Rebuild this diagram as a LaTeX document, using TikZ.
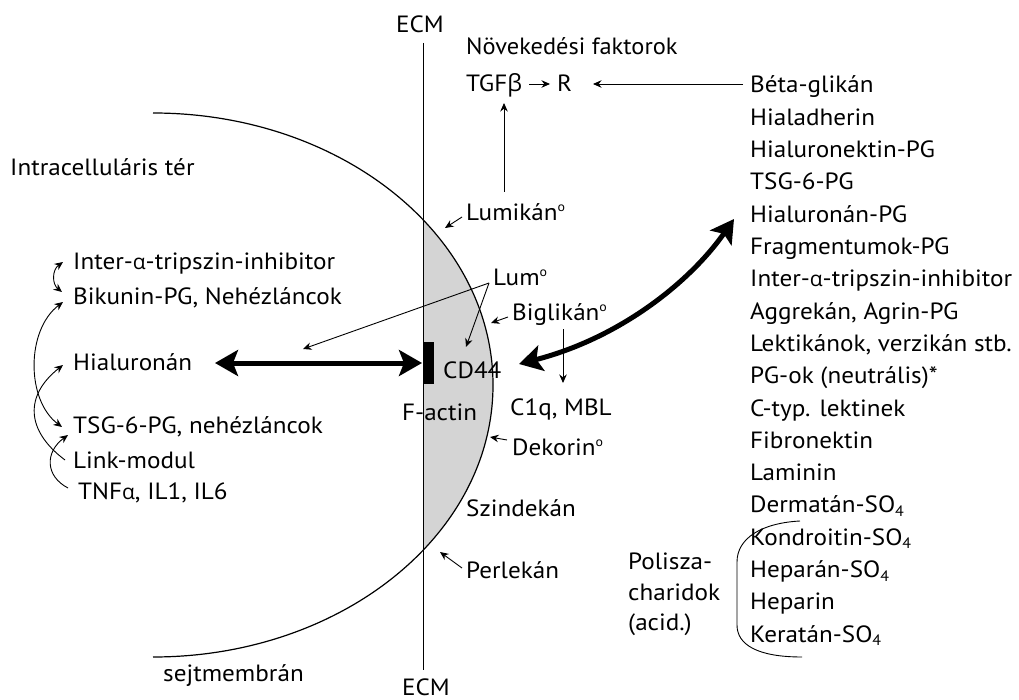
\documentclass[tikz,border=0pt]{standalone}
\usepackage{fontspec}
\setmainfont{PT Sans}[FakeStretch=1.07]
\newfontfamily\grfont{Open Sans}
\usetikzlibrary{arrows.meta}
\definecolor{cellgray}{RGB}{212,212,212}
\newcommand{\ga}{{\grfont\fontsize{21}{24}\selectfont α}}
\newcommand{\gb}{{\grfont β}}
\newcommand{\mysub}[1]{\raisebox{-0.3ex}{\fontsize{15}{15}\selectfont #1}}
\newcommand{\mydeg}{\raisebox{9pt}{\fontsize{13}{13}\selectfont o}}
\tikzset{
  lbl/.style={anchor=base west, inner sep=0pt, font=\fontsize{23.5}{27}\selectfont},
  thinarr/.style={line width=0.9pt, -{Stealth[length=8.5pt,width=7.5pt]}},
  thinboth/.style={line width=0.9pt, {Stealth[length=8.5pt,width=7.5pt]}-{Stealth[length=8.5pt,width=7.5pt]}},
  thickboth/.style={line width=5pt, {Stealth[length=23pt,width=26pt,inset=5pt]}-{Stealth[length=23pt,width=26pt,inset=5pt]}},
}
\begin{document}
\begin{tikzpicture}[x=1pt,y=-1pt]
\useasboundingbox (0,0) rectangle (1019,700);
% shaded region
\begin{scope}
  \clip (423,0) rectangle (1019,700);
  \fill[cellgray] (153,385) ellipse [x radius=340pt, y radius=272pt];
\end{scope}
% cell membrane
\draw[line width=1.2pt] (153,113) arc [start angle=90, end angle=-90, x radius=340pt, y radius=272pt];
% ECM line
\node[lbl, anchor=base] (ecmt) at (420,33) {ECM};
\node[lbl, anchor=base] (ecmb) at (426,695) {ECM};
\coordinate (ecm1) at (423,43);
\coordinate (ecm2) at (423,670);
\draw[line width=1pt] (ecm1) -- (ecm2);
% CD44 bar
\fill (423,342) rectangle (434,384);

% top texts
\node[lbl] (nov) at (466,55) {\scalebox{0.97}[1]{Növekedési faktorok}};
\node[lbl] (tgf) at (466,92) {TGF\gb};
\node[lbl] (rr) at (557,92) {R};
\coordinate (t1) at (529,84);
\coordinate (t2) at (550,84);
\draw[thinarr] (t1) -- (t2);

% right column
\foreach \t [count=\i from 0] in {Béta-glikán, Hialadherin, Hialuronektin-PG, TSG-6-PG, Hialuronán-PG, Fragmentumok-PG, Inter-\ga-tripszin-inhibitor, {Aggrekán, Agrin-PG}, {Lektikánok, verzikán stb.}, PG-ok (neutrális)*, C-typ. lektinek, Fibronektin, Laminin, Dermatán-SO\mysub{4}, Kondroitin-SO\mysub{4}, Heparán-SO\mysub{4}, Heparin, Keratán-SO\mysub{4}}
  \node[lbl] (r\i) at (750,{93+32.3*\i}) {\t};

\coordinate (b1) at (743,84);
\coordinate (b2) at (593,84);
\draw[thinarr] (b1) -- (b2);

% bracket
\coordinate (k1) at (800,521);
\coordinate (k2) at (802,657);
\draw[line width=0.9pt] (k1) .. controls (762,523) and (737,538) .. (737,562) -- (737,625) .. controls (737,645) and (758,657) .. (k2);
\node[lbl] (pol1) at (628,569) {Polisza-};
\node[lbl] (pol2) at (628,600) {charidok};
\node[lbl] (pol3) at (628,630) {(acid.)};

% left texts
\node[lbl] (intra) at (10,176) {Intracelluláris tér};
\node[lbl] (iti) at (73,270) {Inter-\ga-tripszin-inhibitor};
\node[lbl] (bik) at (73,305) {Bikunin-PG, Nehézláncok};
\node[lbl] (hia) at (73,370) {Hialuronán};
\node[lbl] (tsg) at (73,433) {TSG-6-PG, nehézláncok};
\node[lbl] (link) at (73,468) {Link-modul};
\node[lbl] (tnf) at (78,499) {TNF\ga, IL1, IL6};
\node[lbl] (sejt) at (163,681) {sejtmembrán};

% middle texts
\node[lbl] (lumikan) at (466,221) {Lumikán\mydeg};
\node[lbl] (lum) at (493,286) {Lum\mydeg};
\node[lbl] (biglikan) at (512,320) {Biglikán\mydeg};
\node[lbl] (cd44) at (443,378) {CD44};
\node[lbl] (factin) at (402,420) {F-actin};
\node[lbl] (c1q) at (510,415) {C1q, MBL};
\node[lbl] (dekorin) at (512,455) {Dekorin\mydeg};
\node[lbl] (szind) at (466,516) {Szindekán};
\node[lbl] (perlekan) at (466,578) {Perlekán};

% thin arrows middle
\coordinate (v1) at (504,192);
\coordinate (v2) at (504,103);
\draw[thinarr] (v1) -- (v2);
\coordinate (lk1) at (462,217);
\coordinate (lk2) at (445,228);
\draw[thinarr] (lk1) -- (lk2);
\coordinate (lm0) at (489,283);
\coordinate (lm1) at (303,349);
\coordinate (lm2) at (466,347);
\draw[thinarr] (lm0) -- (lm1);
\draw[thinarr] (lm0) -- (lm2);
\coordinate (bg1) at (508,317);
\coordinate (bg2) at (491,323);
\draw[thinarr] (bg1) -- (bg2);
\coordinate (c1) at (563,329);
\coordinate (c2) at (563,383);
\draw[thinarr] (c1) -- (c2);
\coordinate (dk1) at (507,440);
\coordinate (dk2) at (490,437);
\draw[thinarr] (dk1) -- (dk2);
\coordinate (pk1) at (462,568);
\coordinate (pk2) at (440,552);
\draw[thinarr] (pk1) -- (pk2);

% thick arrows
\coordinate (ha) at (215,363);
\coordinate (hb) at (422,363);
\draw[thickboth] (ha) -- (hb);
\coordinate (ca) at (519,364);
\coordinate (cb) at (734,219);
\draw[thickboth] (ca) .. controls (620,338) and (690,282) .. (cb);

% left curved arrows
\coordinate (d1) at (63,262);
\coordinate (d2) at (62,292);
\draw[thinboth] (d1) .. controls (52,270) and (52,284) .. (d2);
\coordinate (a1) at (63,302);
\coordinate (a2) at (62,427);
\draw[thinboth] (a1) .. controls (26,330) and (26,400) .. (a2);
\coordinate (bb1) at (65,460);
\coordinate (bb2) at (63,365);
\draw[thinarr] (bb1) .. controls (25,430) and (25,395) .. (bb2);
\coordinate (cc1) at (68,488);
\coordinate (cc2) at (68,435);
\draw[thinarr] (cc1) .. controls (45,476) and (45,452) .. (cc2);
\end{tikzpicture}
\end{document}
